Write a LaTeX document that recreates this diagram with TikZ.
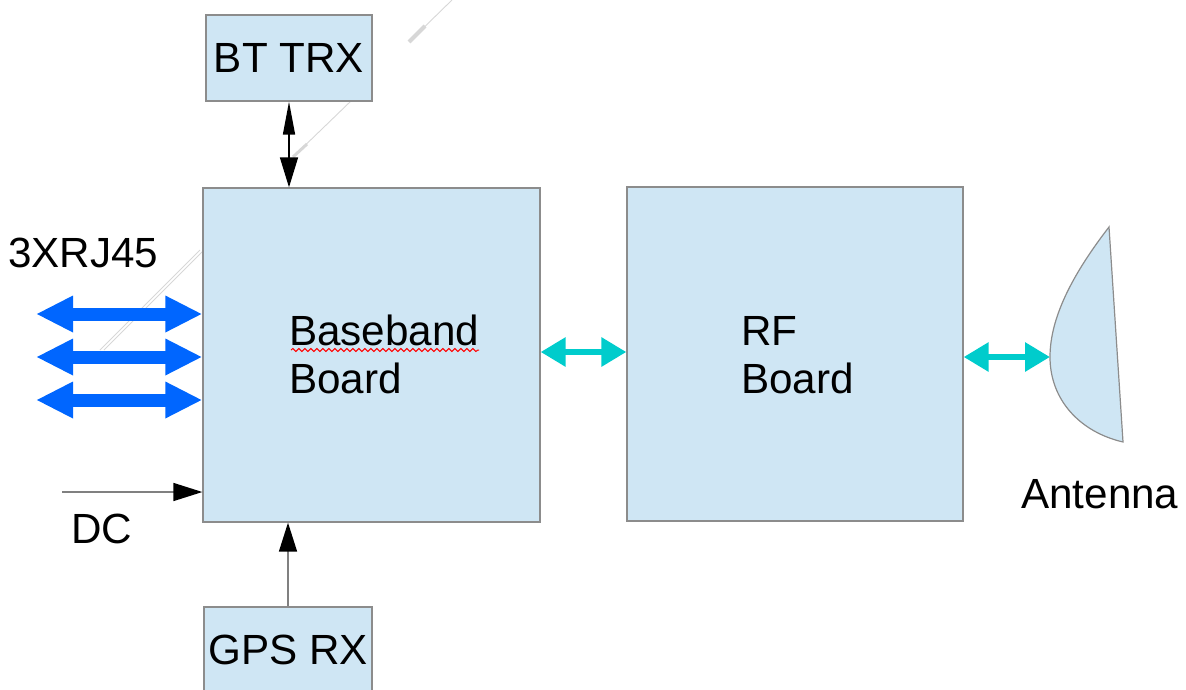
\documentclass[tikz,border=0pt]{standalone}
\usepackage{fontspec}
\setmainfont{Liberation Sans}
\usetikzlibrary{arrows.meta,decorations.pathmorphing}
\definecolor{boxfill}{RGB}{207,230,244}
\definecolor{boxline}{RGB}{140,140,140}
\definecolor{bluearr}{RGB}{0,102,255}
\definecolor{cyanarr}{RGB}{0,204,204}
\definecolor{faint}{RGB}{215,215,215}
\begin{document}
\begin{tikzpicture}[x=1pt,y=-1pt,
  block/.style={draw=boxline,fill=boxfill,line width=1.3pt,rectangle,inner sep=0pt},
  lbl/.style={inner sep=0pt,font=\fontsize{42.2}{48}\selectfont},
  bigarrow/.style={bluearr,line width=13pt,{Triangle[length=37pt,width=34pt]}-{Triangle[length=37pt,width=34pt]}},
  cyanarrow/.style={cyanarr,line width=6pt,{Triangle[length=25pt,width=28pt]}-{Triangle[length=25pt,width=28pt]}},
  blkarrow/.style={black,line width=1.5pt,{Triangle[length=33pt,width=12pt]}-{Triangle[length=30pt,width=18pt]}},
  grayarrow/.style={draw=gray,line width=1.5pt,-{Triangle[length=29pt,width=18pt,color=black]}},
  faintline/.style={draw=faint,line width=0.9pt}
]
\useasboundingbox (0,0) rectangle (1186,689);
% faint stray lines
\draw[faintline] (100,350) -- (200,250);
\draw[faintline] (104,350) -- (203,251);
\draw[faintline] (293,157) -- (352,100);
\draw[faintline,line width=3pt] (293,157) -- (307,144);
\draw[faintline] (409,42) -- (452,0);
\draw[faintline,line width=4pt] (409,42) -- (425,26);
% boxes
\node[block,lbl,minimum width=166pt,minimum height=86pt] (bt) at (289,58) {BT TRX};
\node[block,minimum width=337pt,minimum height=334pt] (bb) at (371.5,355) {};
\node[block,minimum width=336pt,minimum height=334pt] (rf) at (795,354) {};
\node[block,lbl,minimum width=168pt,minimum height=86pt] (gps) at (288,650) {GPS RX};
% antenna
\draw[draw=boxline,fill=boxfill,line width=1.2pt]
  (1109,227) .. controls (1072,275) and (1050,318) .. (1050,357)
  .. controls (1050,400) and (1080,432) .. (1123,442) -- cycle;
\coordinate (ant) at (1050,357);
% texts
\node[lbl,anchor=base west] (tbb1) at (289,345) {Baseband};
\node[lbl,anchor=base west] (tbb2) at (289,393) {Board};
\node[lbl,anchor=base west] (trf1) at (741,345) {RF};
\node[lbl,anchor=base west] (trf2) at (741,393) {Board};
\node[lbl,anchor=base west] (t3x) at (8,267) {3XRJ45};
\node[lbl,anchor=base west] (tdc) at (71,543) {DC};
\node[lbl,anchor=base west] (tant) at (1021,508) {Antenna};
\draw[red,line width=1pt,decorate,decoration={snake,amplitude=1.5pt,segment length=6pt}] (tbb1.base west) ++(2,5) -- ++(188,0);
% blue arrows
\coordinate (b1) at (36,314);
\coordinate (b2) at (36,357);
\coordinate (b3) at (36,400);
\draw[bigarrow] (b1) -- (bb.west |- b1);
\draw[bigarrow] (b2) -- (bb.west |- b2);
\draw[bigarrow] (b3) -- (bb.west |- b3);
% cyan arrows
\draw[cyanarrow] ([yshift=3pt]bb.east) -- ([yshift=2pt]rf.west);
\draw[cyanarrow] (rf.east |- ant) -- (ant);
% black arrows
\draw[blkarrow] (bt.south) -- (bt.south |- bb.north);
\draw[grayarrow] (gps.north) -- (gps.north |- bb.south);
\coordinate (dc) at (62,492);
\draw[grayarrow] (dc) -- (bb.west |- dc);
\end{tikzpicture}
\end{document}
